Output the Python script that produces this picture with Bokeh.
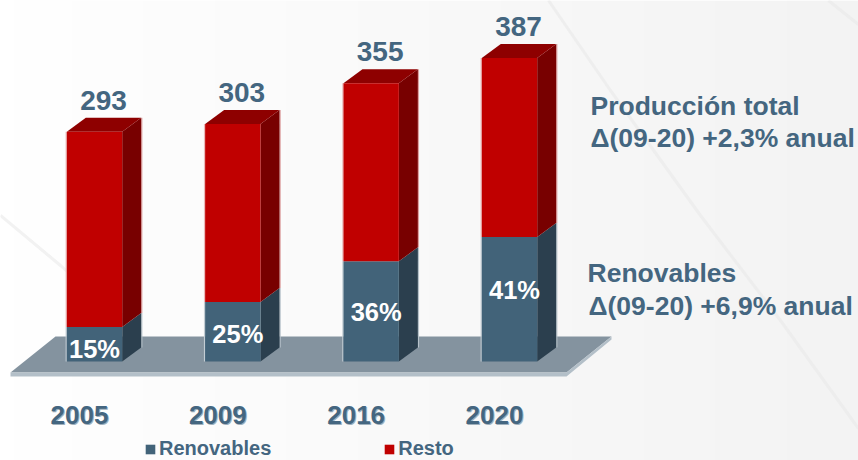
import numpy as np
from bokeh.plotting import figure
from bokeh.models import Legend, LegendItem
from bokeh.core.properties import value
from bokeh.embed import file_html
from bokeh.resources import INLINE

years = ["2005", "2009", "2016", "2020"]
totals = [293, 303, 355, 387]
renov_pct = [15, 25, 36, 41]
notes = ["Producción total", "Δ(09-20) +2,3% anual", "Renovables", "Δ(09-20) +6,9% anual"]

BLUE, BLUE_SIDE = "#426379", "#2b3f4e"
RED, RED_TOP, RED_SIDE = "#c00000", "#8e0000", "#780000"
INK = "#446680"
FONT = value("Liberation Sans")

PXX, PXY = 138.33, 0.784
W, H = 858, 460
x0, y0 = -94 / PXX, -(460 - 361) / PXY
hw = 27.7 / PXX
dx, dy = 19 / PXX, 14 / PXY

p = figure(width=W, height=H, output_backend="svg", toolbar_location=None,
           x_range=(x0, x0 + W / PXX), y_range=(y0, y0 + H / PXY),
           min_border=0, outline_line_color=None, background_fill_color="white",
           border_fill_color=None)
p.styles = {"position": "absolute", "left": "0px", "top": "0px"}
p.axis.visible = False
p.grid.visible = False

def X(px): return x0 + px / PXX
def Y(py): return y0 + (H - py) / PXY

# backdrop: soft left-to-right grey gradient and faint streaks
n = 60
shade = np.linspace(255, 243, n).astype(np.uint32)
bg = (255 << 24 | shade << 16 | shade << 8 | shade).reshape(1, n)
p.image_rgba(image=[bg], x=X(0), y=Y(H), dw=W / PXX, dh=H / PXY)
p.multi_line(xs=[[X(a) for a in (548, 610, 700, 780, 858)], [X(a) for a in (828, 858)],
                 [X(a) for a in (0, 60, 150)]],
             ys=[[Y(a) for a in (0, 90, 215, 320, 428)], [Y(a) for a in (0, 24)],
                 [Y(a) for a in (215, 265, 345)]],
             line_color="#e8e8e8", line_width=3, line_alpha=0.55)

# floor
p.patch([X(10), X(55), X(611), X(566)], [Y(372), Y(336), Y(336), Y(372)], color="#84939f", line_width=0)
p.patch([X(10), X(566), X(611), X(611), X(566), X(10)],
        [Y(372), Y(372), Y(336), Y(339), Y(376), Y(376)], color="#b3bfc8", line_width=0)

xs = list(range(len(years)))
renov = [t * r / 100 for t, r in zip(totals, renov_pct)]

blue_r = red_r = None
for i, t, b in zip(xs, totals, renov):
    l, r = i - hw, i + hw
    # soft edge of each bar
    p.segment(x0=[r + dx + 0.6 / PXX] * 2, x1=[r + dx + 0.6 / PXX] * 2, y0=[dy, b + dy], y1=[b + dy, t + dy],
              line_color=["#b7c2ca", "#dda0a0"], line_width=1.2)
    p.segment(x0=[l - 0.6 / PXX] * 2, x1=[l - 0.6 / PXX] * 2, y0=[0, b], y1=[b, t],
              line_color=["#c3cdd4", "#eab8b8"], line_width=1.2)
    # side faces
    p.patch([r, r + dx, r + dx, r], [0, dy, b + dy, b], color=BLUE_SIDE, line_width=0)
    p.patch([r, r + dx, r + dx, r], [b, b + dy, t + dy, t], color=RED_SIDE, line_width=0)
    # top
    p.patch([l, l + dx, r + dx, r], [t, t + dy, t + dy, t], color=RED_TOP, line_width=0)
    # front faces
    blue_r = p.quad(left=[l], right=[r], bottom=[0], top=[b], color=BLUE, line_width=0)
    red_r = p.quad(left=[l], right=[r], bottom=[b], top=[t], color=RED, line_width=0)

# value labels
p.text(x=[i + 9 / PXX for i in xs], y=[t + dy + 10 for t in totals], text=[str(t) for t in totals],
       text_font=FONT, text_font_size="28px", text_font_style="bold", text_color=INK,
       text_align="center", text_baseline="bottom")
# percentage labels
pct_dx = [0, 5, 5, 5]
pct_dy = [-1, -2, -1, 9]
p.text(x=[i + d / PXX for i, d in zip(xs, pct_dx)],
       y=[(b / 2 if b > 60 else 17) + d / PXY for b, d in zip(renov, pct_dy)],
       text=[f"{r}%" for r in renov_pct],
       text_font=FONT, text_font_size="25.5px", text_font_style="bold", text_color="white",
       text_align="center", text_baseline="middle")
# year labels with soft shadow
yy = [Y(414)] * 4
yx = [i - 15 / PXX for i in xs]
p.text(x=[v + 1 / PXX for v in yx], y=[v - 1 / PXY for v in yy], text=years, text_font=FONT, text_font_size="26px",
       text_font_style="bold", text_color="#9fb0bc", text_align="center", text_baseline="middle")
p.text(x=yx, y=yy, text=years, text_font=FONT, text_font_size="26px",
       text_font_style="bold", text_color=INK, text_align="center", text_baseline="middle")
# notes
p.text(x=[X(590), X(590), X(587), X(588)], y=[Y(105), Y(137), Y(272), Y(305)], text=notes,
       text_font=FONT, text_font_size="26.5px", text_font_style="bold", text_color=INK,
       text_align="left", text_baseline="middle")

legend = Legend(items=[LegendItem(label="Renovables", renderers=[blue_r]),
                       LegendItem(label="Resto", renderers=[red_r])],
                orientation="horizontal", location=(144, 0), padding=0, margin=0, spacing=112,
                glyph_width=12, glyph_height=12, label_standoff=3,
                label_text_font="Liberation Sans", label_text_font_size="20px",
                label_text_font_style="bold", label_text_color=INK,
                background_fill_alpha=0, border_line_alpha=0)
p.add_layout(legend)

open("out.html", "w").write(file_html(p, INLINE))
